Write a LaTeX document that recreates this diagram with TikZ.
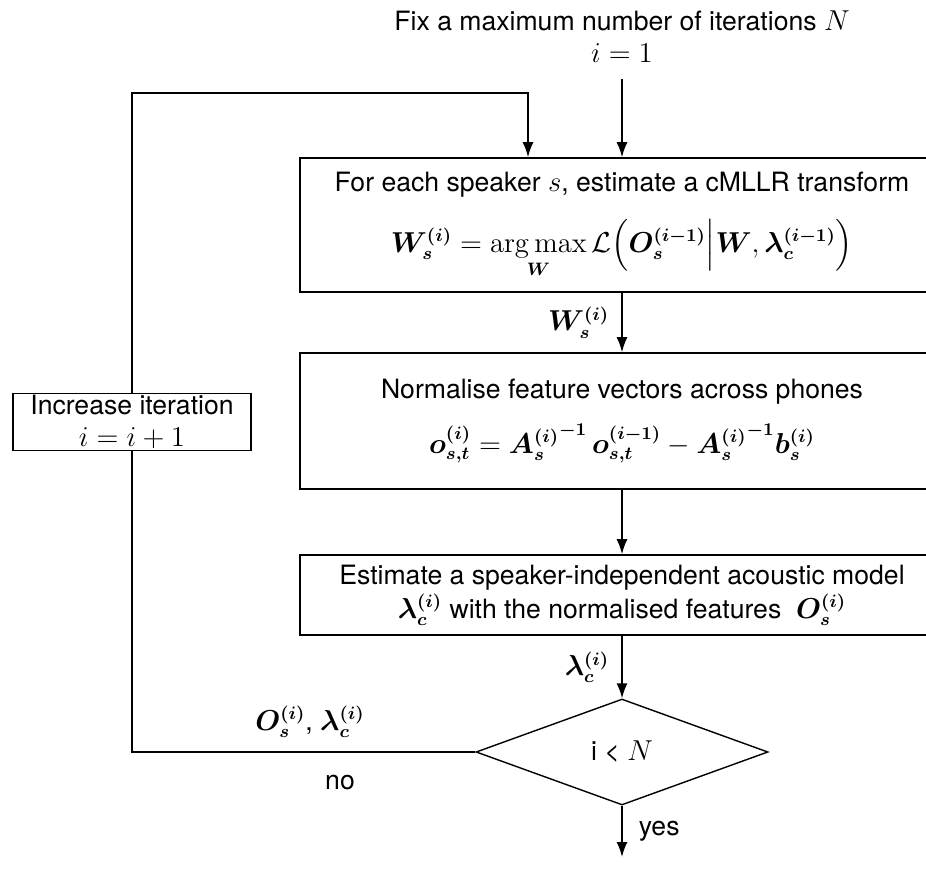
\documentclass[tikz,border=0pt]{standalone}
\usepackage{amsmath}
\usepackage{bm}
\usepackage[no-math]{fontspec}
\setmainfont{TeX Gyre Heros}
\usetikzlibrary{shapes.geometric,arrows.meta}

\tikzset{
  base/.style={font=\fontsize{13.3}{16}\selectfont},
  procbox/.style={base,draw,line width=0.8pt,minimum width=322pt,align=center,inner sep=2pt},
  incbox/.style={base,draw,line width=0.7pt,minimum width=119pt,minimum height=26pt,align=center,inner sep=1pt},
  decision/.style={base,draw,line width=0.7pt,diamond,minimum width=146pt,minimum height=53pt,inner sep=0pt},
  flow/.style={line width=0.8pt,-{Latex[length=7.5pt,width=5.5pt]}},
  plain/.style={line width=0.8pt},
  lbl/.style={base,inner sep=0pt}
}

\begin{document}
\begin{tikzpicture}[x=0.5pt,y=-0.5pt]
\useasboundingbox (0,0) rectangle (926,871);
\clip (0,0) rectangle (926,871);

% start of the procedure
\node[lbl,align=center] (start) at (622,37) {Fix a maximum number of iterations $N$\\ $i=1$};

% the three processing steps
\node[procbox,minimum height=67pt] (est) at (622,225)
  {For each speaker $s$, estimate a cMLLR transform\\[10pt]
   $\bm{W_s^{(i)}} = \mathop{\mathrm{arg\,max}}\limits_{\bm{W}} \mathcal{L}\Bigl(\bm{O_s^{(i-1)}}\Bigr|\bm{W}, \bm{\lambda_c^{(i-1)}}\Bigr)$};

\node[procbox,minimum height=68pt] (norm) at (622,421)
  {Normalise feature vectors across phones\\[9pt]
   $\bm{o_{s,t}^{(i)}} = {\bm{A_s^{(i)}}}^{\bm{-1}}\,\bm{o_{s,t}^{(i-1)}} - {\bm{A_s^{(i)}}}^{\bm{-1}}\bm{b_s^{(i)}}$};

\node[procbox,minimum height=40pt] (model) at (622,595)
  {Estimate a speaker-independent acoustic model\\[1pt]
   $\bm{\lambda_c^{(i)}}$ with the normalised features\ \ $\bm{O_s^{(i)}}$};

% loop test
\node[decision] (test) at (622,752) {i < $N$};

% iteration counter
\node[incbox] (inc) at (132,422) {Increase iteration\\ $i=i+1$};

% free ends of the loop
\coordinate (fbtop) at (528,93);
\coordinate (stop) at (622,857);

% main flow
\draw[flow,shorten <=8pt] (start.south) -- (est.north);
\draw[flow] (est.south) -- node[lbl,left=6pt] {$\bm{W_s^{(i)}}$} (norm.north);
\draw[flow] (norm.south) -- (model.north);
\draw[flow] (model.south) -- node[lbl,left=6pt] {$\bm{\lambda_c^{(i)}}$} (test.north);
\draw[flow] (test.south) -- node[lbl,right=8pt] {yes} (stop);

% feedback loop
\draw[plain] (test.west) -| (inc.south);
\draw[flow] (inc.north) |- (fbtop) -- (fbtop |- est.north);

% labels of the "no" branch
\node[lbl] (vars) at (310,722) {$\bm{O_s^{(i)}}$, $\bm{\lambda_c^{(i)}}$};
\node[lbl] (no) at (340,783) {no};
\end{tikzpicture}
\end{document}
